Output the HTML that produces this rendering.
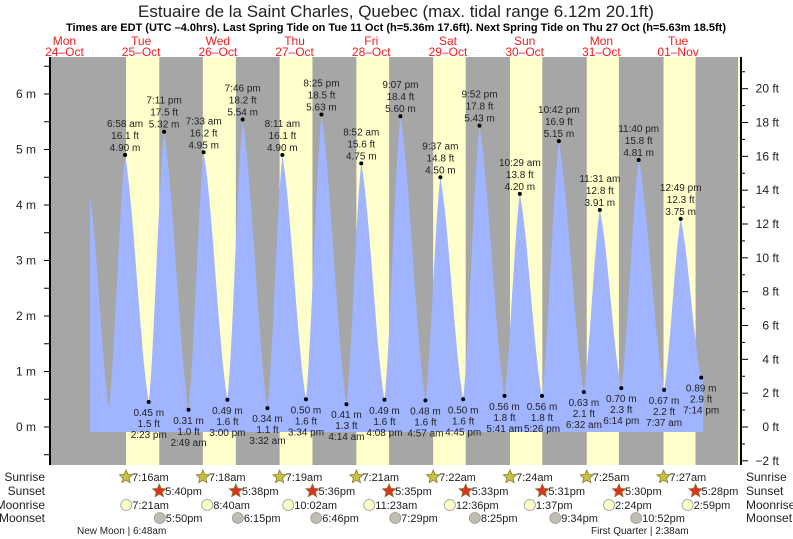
<!DOCTYPE html>
<html><head><meta charset="utf-8"><style>
body{margin:0;background:#fff;}
svg{display:block;font-family:"Liberation Sans",sans-serif;}
</style></head><body>
<svg id="chart" width="793" height="539" viewBox="0 0 793 539" xmlns="http://www.w3.org/2000/svg">
<text x="396" y="17" font-size="17" text-anchor="middle" fill="#222">Estuaire de la Saint Charles, Quebec (max. tidal range 6.12m 20.1ft)</text>
<text x="396" y="31" font-size="11" font-weight="bold" text-anchor="middle" fill="#000">Times are EDT (UTC –4.0hrs). Last Spring Tide on Tue 11 Oct (h=5.36m 17.6ft). Next Spring Tide on Thu 27 Oct (h=5.63m 18.5ft)</text>
<g id="days"></g>
<rect x="50" y="57" width="691" height="408" fill="#a6a6a6"/>
<g id="daylight"></g>
<g id="tide"></g>
<g id="labels"></g>
<g id="axes"></g>
<g id="astro"></g>
</svg>
<script>
const NS="http://www.w3.org/2000/svg";
// data: times in hours since 25-Oct 00:00
const tideTimes=[-4,1.9,6.97,14.38,19.18,26.82,31.55,39.0,43.77,51.53,56.18,63.57,68.42,76.23,80.87,88.13,93.12,100.95,105.62,112.75,117.87,125.68,130.48,137.43,142.7,150.53,155.52,162.23,167.67,175.62,180.82,187.23];
const tideHeights=[4.14,0.34,4.90,0.45,5.32,0.31,4.95,0.49,5.54,0.34,4.90,0.50,5.63,0.41,4.75,0.49,5.60,0.48,4.50,0.50,5.43,0.56,4.20,0.56,5.15,0.63,3.91,0.70,4.81,0.67,3.75,0.89];
const tideLabels=["","","6:58 am","2:23 pm","7:11 pm","2:49 am","7:33 am","3:00 pm","7:46 pm","3:32 am","8:11 am","3:34 pm","8:25 pm","4:14 am","8:52 am","4:08 pm","9:07 pm","4:57 am","9:37 am","4:45 pm","9:52 pm","5:41 am","10:29 am","5:26 pm","10:42 pm","6:32 am","11:31 am","6:14 pm","11:40 pm","7:37 am","12:49 pm","7:14 pm"];
const dayNames=["Mon","Tue","Wed","Thu","Fri","Sat","Sun","Mon","Tue"];
const dayDates=["24–Oct","25–Oct","26–Oct","27–Oct","28–Oct","29–Oct","30–Oct","31–Oct","01–Nov"];
const sunrise=[7.27,7.30,7.32,7.35,7.37,7.40,7.42,7.45];
const sunriseLbl=["7:16am","7:18am","7:19am","7:21am","7:22am","7:24am","7:25am","7:27am"];
const sunset=[17.67,17.63,17.60,17.58,17.55,17.52,17.50,17.47];
const sunsetLbl=["5:40pm","5:38pm","5:36pm","5:35pm","5:33pm","5:31pm","5:30pm","5:28pm"];
const moonrise=[7.35,8.67,10.03,11.38,12.6,13.62,14.4,14.98];
const moonriseLbl=["7:21am","8:40am","10:02am","11:23am","12:36pm","1:37pm","2:24pm","2:59pm"];
const moonset=[17.83,18.25,18.77,19.48,20.42,21.57,22.87];
const moonsetLbl=["5:50pm","6:15pm","6:46pm","7:29pm","8:25pm","9:34pm","10:52pm"];
const mTicks=[0,1,2,3,4,5,6];
const ftTicks=[-2,0,2,4,6,8,10,12,14,16,18,20];

const X0=102.8,PXH=3.196,Y0=427,PXM=55.5;
const x=t=>X0+t*PXH;
const y=m=>Y0-m*PXM;
const yft=f=>y(f*0.3048);
function el(tag,attrs,parent,text){const e=document.createElementNS(NS,tag);for(const k in attrs)e.setAttribute(k,attrs[k]);if(text!==undefined)e.textContent=text;parent.appendChild(e);return e;}
const G=id=>document.getElementById(id);

// day labels
dayNames.forEach((d,i)=>{
  let cx=x(i*24-24+12); if(cx<64)cx=64;
  const t1=el('text',{x:cx,y:45,'font-size':12,'text-anchor':'middle',fill:'#f02020'},G('days'),d);
  
  
  const t2=el('text',{x:cx,y:56,'font-size':12,'text-anchor':'middle',fill:'#f02020'},G('days'),dayDates[i]);
  
  
});
// daylight
sunrise.forEach((s,i)=>{
  const r=el('rect',{x:x(i*24+s),y:57,width:(sunset[i]-s)*PXH,height:408,fill:'#ffffcc'},G('daylight'));
  
  
});
const edge=el('rect',{x:738,y:57,width:3,height:408,fill:'#ffffcc'},G('daylight'));



// tide curve
let pts=[];
for(let i=0;i<tideTimes.length-1;i++){
  const t0=tideTimes[i],t1=tideTimes[i+1],h0=tideHeights[i],h1=tideHeights[i+1];
  const n=Math.max(4,Math.round((t1-t0)*4));
  for(let k=0;k<n;k++){const u=k/n;const f=0.55*u+0.45*(1-Math.cos(Math.PI*u))/2;pts.push([x(t0+(t1-t0)*u),y(h0+(h1-h0)*f)]);}
}
const tl=tideTimes.length-1;
const xe=x(tideTimes[tl]);
pts.push([xe,y(tideHeights[tl])]);
pts.push([xe+2,y(tideHeights[tl]-0.03)]);
const yb=432;
let d=`M${pts[0][0]},${yb} `+pts.map(p=>`L${p[0].toFixed(1)},${p[1].toFixed(1)}`).join(' ')+` L${pts[pts.length-1][0]},${yb} Z`;
const area=el('path',{d:d,fill:'#a0b4ff'},G('tide'));



// extrema labels
for(let i=2;i<tideTimes.length;i++){
  const px=x(tideTimes[i]),py=y(tideHeights[i]);const m=tideHeights[i];
  const ft=(m/0.3048).toFixed(1);
  const dot=el('circle',{cx:px,cy:py,r:2,fill:'#000'},G('labels'));
  
  
  const high=m>2;
  const lines=high?[tideLabels[i],ft+' ft',m.toFixed(2)+' m']:[m.toFixed(2)+' m',ft+' ft',tideLabels[i]];
  lines.forEach((s,j)=>{
    const yy=high?py-28+j*12:py+14+j*11;
    const t=el('text',{x:px,y:yy,'font-size':10,'text-anchor':'middle',fill:'#222'},G('labels'),s);
    
    
  });
}
// axes
const ax=G('axes');
let a=el('line',{x1:50,y1:57,x2:50,y2:465,stroke:'#000','stroke-width':2},ax);

a=el('line',{x1:741,y1:57,x2:741,y2:465,stroke:'#000','stroke-width':2},ax);

for(let v=-0.5;v<=6.5;v+=0.5){const l=el('line',{x1:44,x2:50,y1:y(v),y2:y(v),stroke:'#000'},ax);}
mTicks.forEach(v=>{const t=el('text',{x:36,y:y(v)+4,'font-size':12,'text-anchor':'end',fill:'#222'},ax,v+' m');});
for(let f=-2;f<=21;f++){const l=el('line',{x1:741,x2:f%2?745:748,y1:yft(f),y2:yft(f),stroke:'#000'},ax);}
ftTicks.forEach(v=>{const t=el('text',{x:779,y:yft(v)+4,'font-size':12,'text-anchor':'end',fill:'#222'},ax,(v<0?'−'+(-v):v)+' ft');});

// astro rows
const as=G('astro');
const rows=[["Sunrise",477],["Sunset",491],["Moonrise",505],["Moonset",518]];
rows.forEach(r=>{
  let t=el('text',{x:45,y:r[1]+4,'font-size':12,'text-anchor':'end',fill:'#222'},as,r[0]);
  t=el('text',{x:746,y:r[1]+4,'font-size':12,fill:'#222'},as,r[0]);
});
function star(cx,cy,fill){let p=[];for(let k=0;k<10;k++){const r=k%2?3.2:7,a=-Math.PI/2+k*Math.PI/5;p.push((cx+r*Math.cos(a)).toFixed(1)+','+(cy+r*Math.sin(a)).toFixed(1));}return el('polygon',{points:p.join(' '),fill:fill,stroke:'#8a7a30','stroke-width':0.8},as);}
function marker(tArr,lbl,row,kind){
  tArr.forEach((tt,i)=>{
    const cx=x(i*24+tt),cy=rows[row][1];
    let m;
    if(kind==='sunrise')m=star(cx,cy,'#c8c040');
    else if(kind==='sunset')m=star(cx,cy,'#e03020');
    else m=el('circle',{cx:cx,cy:cy,r:5.5,fill:kind==='moonrise'?'#ffffc8':'#c0bdb0',stroke:'#999','stroke-width':0.8},as);
    
    
    const t=el('text',{x:cx+6,y:cy+4,'font-size':11,fill:'#222'},as,lbl[i]);
    
    
  });
}
marker(sunrise,sunriseLbl,0,'sunrise');
marker(sunset,sunsetLbl,1,'sunset');
marker(moonrise,moonriseLbl,2,'moonrise');
marker(moonset,moonsetLbl,3,'moonset');
let ph=el('text',{x:77,y:534,'font-size':10,fill:'#222'},as,'New Moon | 6:48am');

ph=el('text',{x:591,y:534,'font-size':10,fill:'#222'},as,'First Quarter | 2:38am');

</script>
</body></html>
